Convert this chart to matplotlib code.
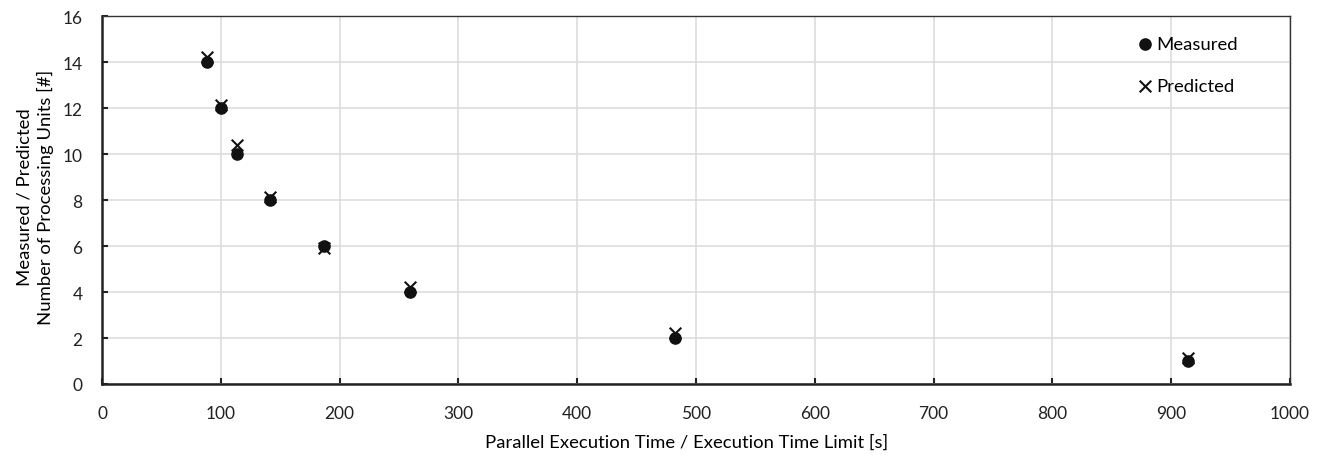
import matplotlib.pyplot as plt

exec_time = [88, 100, 114, 141, 187, 259, 482, 914]
measured = [14, 12, 10, 8, 6, 4, 2, 1]
predicted = [14.2, 12.15, 10.4, 8.15, 5.9, 4.2, 2.2, 1.15]

plt.rcParams['font.family'] = ['Lato', 'DejaVu Sans']

fig = plt.figure(figsize=(13.18, 4.56), dpi=100)
ax = fig.add_axes([102 / 1318, 1 - 385 / 456, 1188 / 1318, 368 / 456])

ax.scatter(exec_time, measured, s=65, color='#111111', marker='o', zorder=3, label='Measured')
ax.scatter(exec_time, predicted, s=70, color='#111111', marker='x', linewidths=1.5, zorder=4, label='Predicted')

ax.set_xlim(0, 1000)
ax.set_ylim(0, 16)
ax.set_xticks(range(0, 1001, 100))
ax.set_yticks(range(0, 17, 2))
ax.grid(True, color='#dddddd', linewidth=1.2)
ax.set_axisbelow(True)

for s in ['top', 'right']:
    ax.spines[s].set_linewidth(1.0)
    ax.spines[s].set_color('#333333')
for s in ['left', 'bottom']:
    ax.spines[s].set_linewidth(1.8)
    ax.spines[s].set_color('#222222')

ax.tick_params(direction='in', length=4, width=1.5, labelsize=12.5, colors='#222222')
ax.tick_params(axis='x', pad=15)
ax.tick_params(axis='y', pad=14)

ax.set_xlabel('Parallel Execution Time / Execution Time Limit [s]', fontsize=13.3)
ax.xaxis.set_label_coords(0.492, -0.135)
ax.set_ylabel('Measured / Predicted\nNumber of Processing Units [#]', fontsize=13.3,
              linespacing=1.35)
ax.yaxis.set_label_coords(-0.040, 0.51)

ax.legend(loc='upper left', bbox_to_anchor=(1127 / 1318, 1 - 28 / 456), bbox_transform=fig.transFigure,
          frameon=False, fontsize=13.3, handlelength=1.0, handletextpad=0.1, labelspacing=1.4,
          borderpad=0.0)

fig.savefig('out.png', dpi=100)
